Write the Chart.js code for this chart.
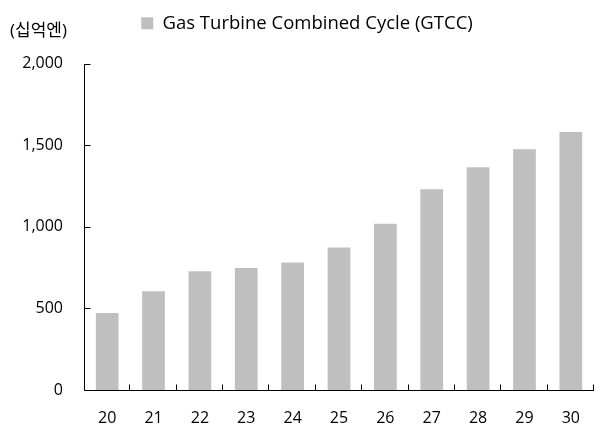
<!DOCTYPE html>
<html>
<head>
<meta charset="utf-8">
<script src="https://cdn.jsdelivr.net/npm/chart.js@4"></script>
<style>
  html, body { margin: 0; padding: 0; background: #fff; }
  #wrap { width: 603px; height: 433px; position: relative; }
</style>
</head>
<body>
<div id="wrap"><canvas id="gtccChart"></canvas></div>
<script>
// 데이터
const years = ['20', '21', '22', '23', '24', '25', '26', '27', '28', '29', '30'];
const gtccValues = [471, 605, 728, 748, 781, 873, 1019, 1229, 1364, 1474, 1580];
const seriesName = 'Gas Turbine Combined Cycle (GTCC)';
const unitLabel = '(십억엔)';

const FONT = "'Open Sans', 'Noto Sans CJK KR', sans-serif";

// 범례 아래 여백 늘리기
const legendGap = {
    id: 'legendGap',
    beforeInit(chart) {
        const fit = chart.legend.fit;
        chart.legend.fit = function () {
            fit.call(this);
            this.height += 21;
        };
    },
    afterLayout(chart) {
        // 범례를 살짝 오른쪽으로
        chart.legend.left += 10;
        chart.legend.right += 10;
    }
};

// 축선과 안쪽 눈금 그리기
const axisPlugin = {
    id: 'innerAxis',
    afterDatasetsDraw(chart) {
        const ctx = chart.ctx;
        const x = chart.scales.x;
        const y = chart.scales.y;
        const left = Math.round(x.left) + 0.5;
        const bottom = Math.round(y.bottom) + 0.5;
        ctx.save();
        ctx.strokeStyle = '#000';
        ctx.lineWidth = 1;
        ctx.beginPath();
        // y축
        ctx.moveTo(left, Math.round(y.top));
        ctx.lineTo(left, bottom);
        y.ticks.forEach(t => {
            const py = Math.round(y.getPixelForValue(t.value)) + 0.5;
            ctx.moveTo(left, py);
            ctx.lineTo(left + 6, py);
        });
        // x축
        ctx.moveTo(left, bottom);
        ctx.lineTo(Math.round(x.right), bottom);
        const step = (x.right - x.left) / years.length;
        for (let i = 1; i <= years.length; i++) {
            const px = Math.round(x.left + step * i) - 0.5;
            ctx.moveTo(px, bottom);
            ctx.lineTo(px, bottom - 6);
        }
        ctx.stroke();
        // 단위
        ctx.fillStyle = '#000';
        ctx.font = '17px ' + FONT;
        ctx.textBaseline = 'middle';
        ctx.textAlign = 'left';
        ctx.fillText(unitLabel, 10, 31);
        ctx.restore();
    }
};

function initChart() {
    return new Chart(document.getElementById('gtccChart').getContext('2d'), {
        type: 'bar',
        data: {
            labels: years,
            datasets: [{
                label: seriesName,
                data: gtccValues,
                backgroundColor: '#bfbfbf',
                borderWidth: 0,
                barPercentage: 0.49,
                categoryPercentage: 1.0
            }]
        },
        options: {
            responsive: true,
            maintainAspectRatio: false,
            animation: false,
            layout: { padding: { top: 4, right: 9, left: 0, bottom: 0 } },
            plugins: {
                tooltip: { enabled: false },
                legend: {
                    position: 'top',
                    labels: {
                        color: '#000',
                        font: { family: FONT, size: 18.5 },
                        boxWidth: 12,
                        boxHeight: 12,
                        padding: 10
                    }
                }
            },
            scales: {
                x: {
                    grid: { display: false, drawTicks: false },
                    border: { display: false },
                    ticks: { color: '#000', font: { family: FONT, size: 16 }, padding: 19 },
                    afterFit(scale) { scale.height = 43; }
                },
                y: {
                    min: 0,
                    max: 2000,
                    grid: { display: false, drawTicks: false },
                    border: { display: false },
                    ticks: {
                        stepSize: 500,
                        color: '#000',
                        font: { family: FONT, size: 16 },
                        padding: 21,
                        callback: v => v.toLocaleString('en-US')
                    },
                    afterFit(scale) { scale.width = 84; }
                }
            }
        },
        plugins: [legendGap, axisPlugin]
    });
}

initChart();
</script>
</body>
</html>
